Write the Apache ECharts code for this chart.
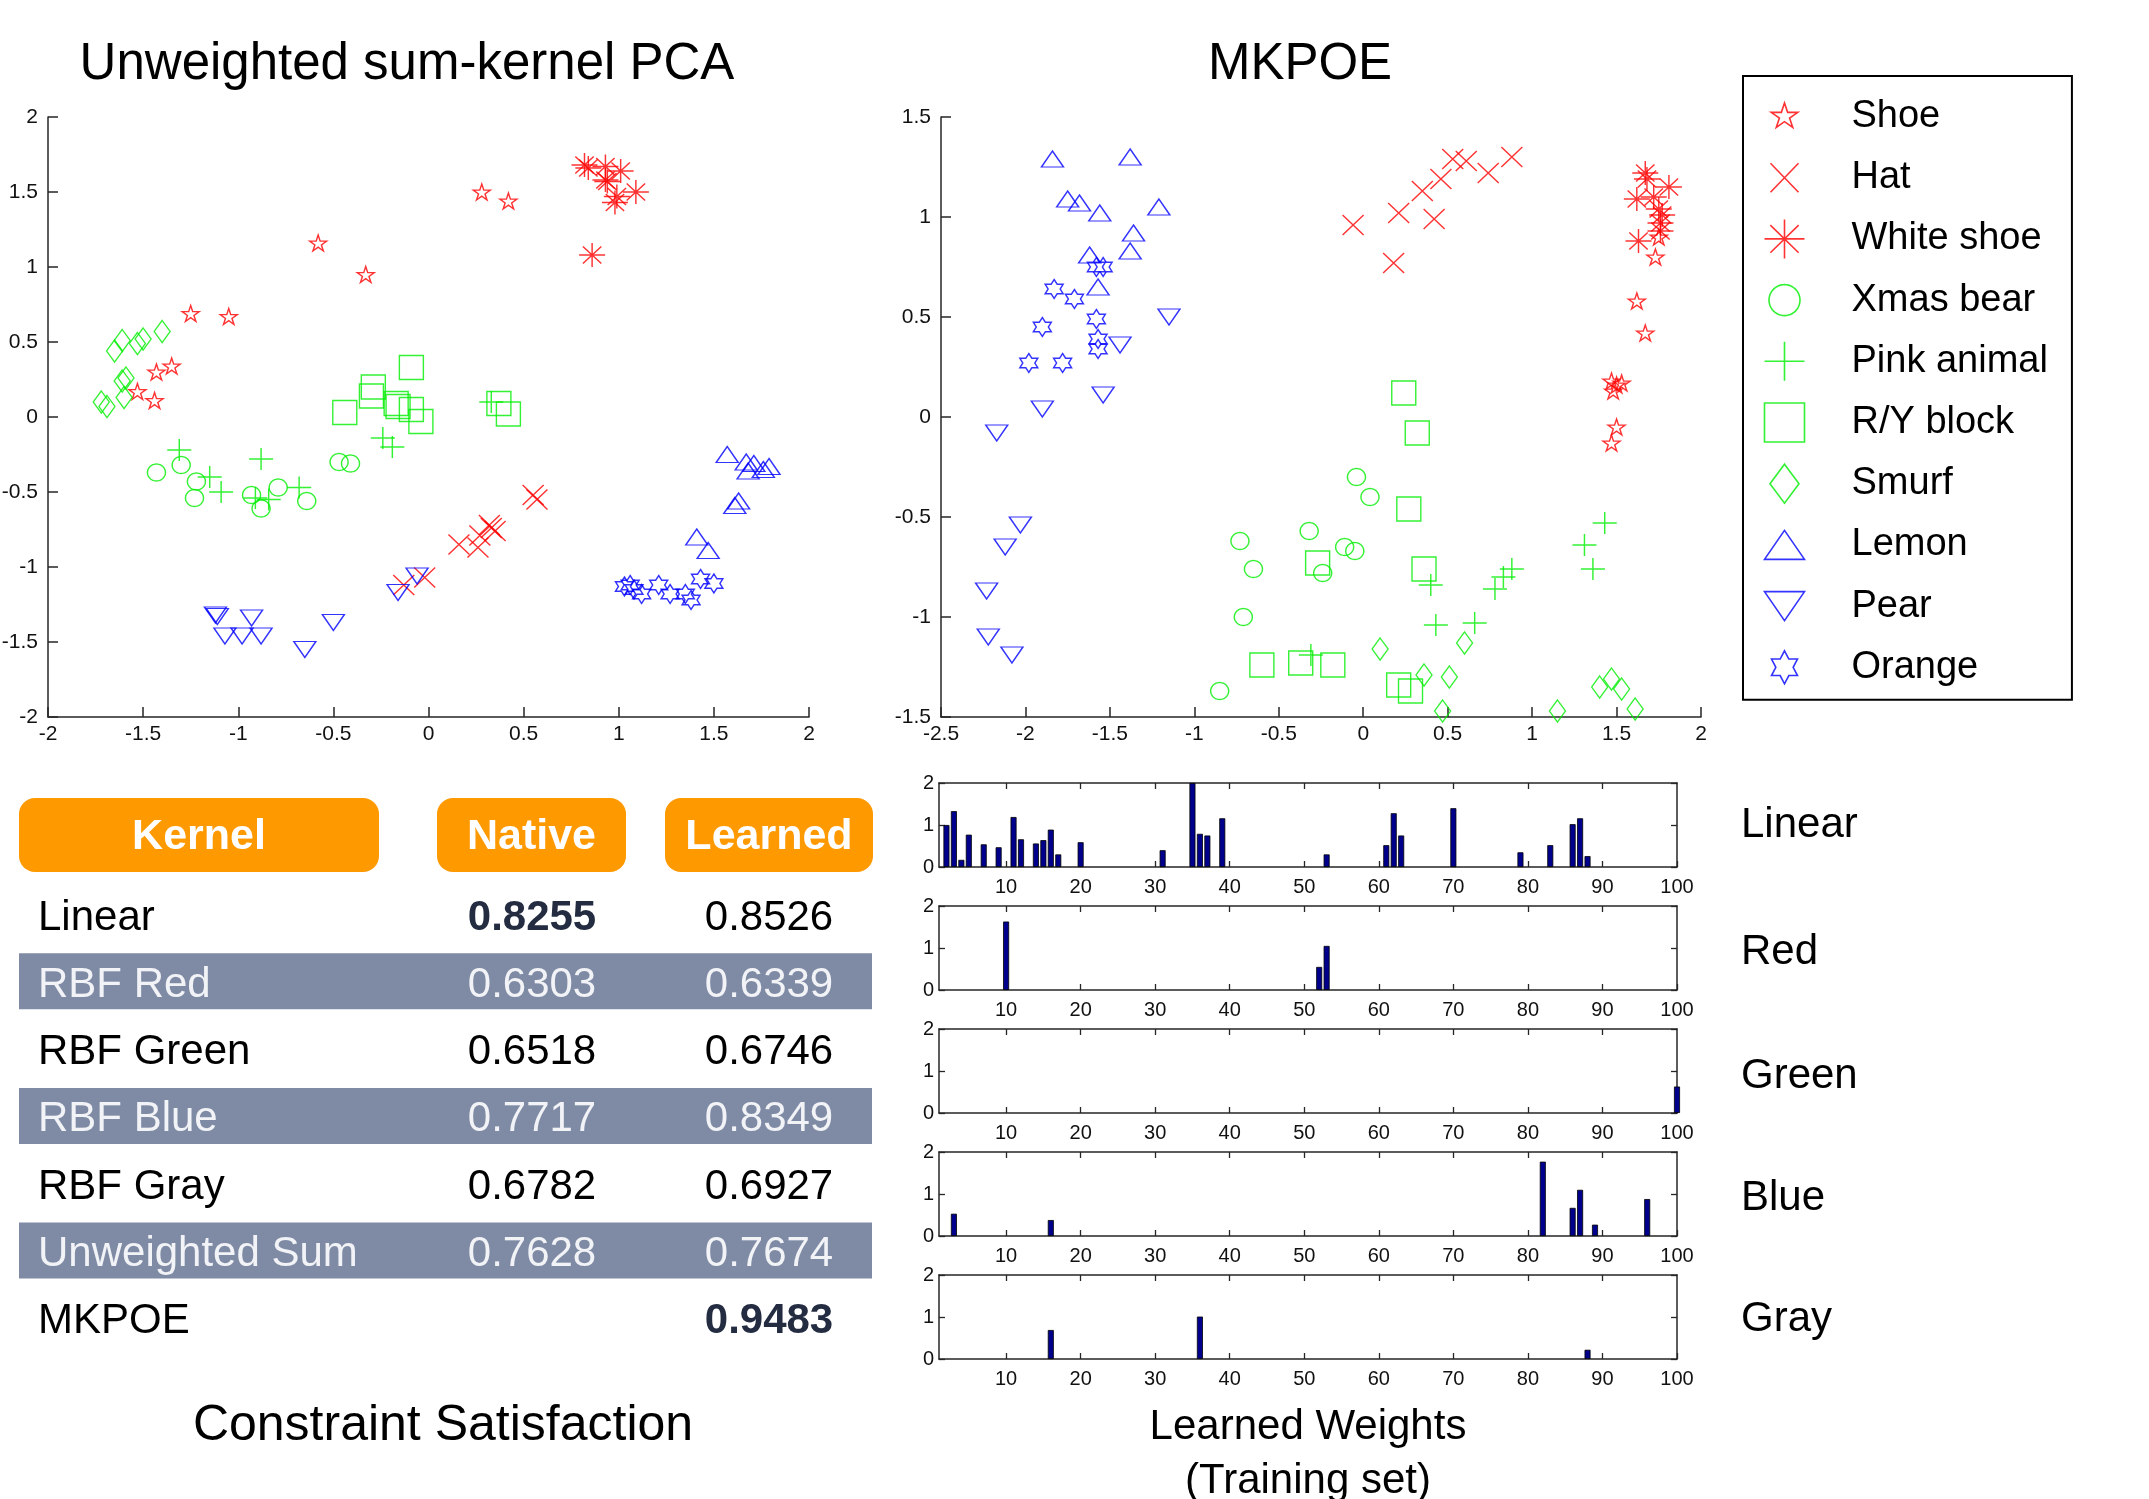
<!DOCTYPE html>
<html><head><meta charset="utf-8">
<script src="https://cdn.jsdelivr.net/npm/echarts@6/dist/echarts.min.js"></script>
<style>html,body{margin:0;padding:0;background:#fff}#c{width:2149px;height:1499px}</style>
</head><body><div id="c"></div>
<script>
// ---------------- DATA ----------------
const classNames = ['Shoe','Hat','White shoe','Xmas bear','Pink animal','R/Y block','Smurf','Lemon','Pear','Orange'];
const classColors = ['#FF0000','#FF0000','#FF0000','#00EE00','#00EE00','#00EE00','#00EE00','#0000FF','#0000FF','#0000FF'];

// Unweighted sum-kernel PCA (left)
const pcaShoe = [[0.28,1.50],[0.42,1.44],[-0.58,1.16],[-0.33,0.95],[-1.25,0.69],[-1.05,0.67],[-1.43,0.30],[-1.35,0.34],[-1.53,0.17],[-1.44,0.11]];
const pcaHat = [[0.55,-0.52],[0.57,-0.55],[0.33,-0.74],[0.35,-0.76],[0.32,-0.72],[0.27,-0.79],[0.16,-0.85],[0.26,-0.87],[-0.13,-1.12],[-0.02,-1.07]];
const pcaWhiteShoe = [[0.82,1.68],[0.84,1.66],[0.93,1.67],[1.01,1.64],[0.93,1.58],[0.94,1.57],[0.99,1.47],[0.98,1.43],[1.09,1.50],[0.86,1.08]];
const pcaXmasBear = [[-1.43,-0.37],[-1.30,-0.32],[-1.22,-0.43],[-1.23,-0.54],[-0.93,-0.52],[-0.88,-0.61],[-0.79,-0.47],[-0.64,-0.56],[-0.47,-0.30],[-0.41,-0.31]];
const pcaPinkAnimal = [[-1.31,-0.22],[-1.15,-0.40],[-1.09,-0.50],[-0.88,-0.28],[-0.91,-0.54],[-0.84,-0.55],[-0.68,-0.47],[-0.24,-0.14],[-0.19,-0.20],[0.33,0.10]];
const pcaRYBlock = [[-0.44,0.03],[-0.29,0.20],[-0.30,0.14],[-0.17,0.09],[-0.16,0.07],[-0.09,0.05],[-0.04,-0.03],[-0.09,0.33],[0.37,0.09],[0.42,0.02]];
const pcaSmurf = [[-1.65,0.44],[-1.61,0.51],[-1.53,0.49],[-1.50,0.52],[-1.40,0.57],[-1.61,0.24],[-1.59,0.26],[-1.60,0.13],[-1.72,0.10],[-1.69,0.07]];
const pcaLemon = [[1.57,-0.25],[1.67,-0.30],[1.71,-0.31],[1.68,-0.36],[1.76,-0.35],[1.79,-0.33],[1.63,-0.56],[1.61,-0.59],[1.41,-0.80],[1.47,-0.89]];
const pcaPear = [[-1.12,-1.32],[-1.11,-1.33],[-0.93,-1.34],[-1.07,-1.46],[-0.98,-1.46],[-0.88,-1.46],[-0.65,-1.55],[-0.50,-1.37],[-0.16,-1.17],[-0.06,-1.06]];
const pcaOrange = [[1.03,-1.13],[1.06,-1.12],[1.08,-1.15],[1.12,-1.18],[1.21,-1.12],[1.27,-1.18],[1.35,-1.18],[1.38,-1.22],[1.43,-1.08],[1.50,-1.11]];

// MKPOE (right)
const mkShoe = [[1.73,0.80],[1.62,0.58],[1.67,0.42],[1.47,0.18],[1.53,0.17],[1.48,0.13],[1.50,0.16],[1.50,-0.05],[1.47,-0.13],[1.75,0.90]];
const mkHat = [[-0.06,0.96],[0.21,1.02],[0.35,1.13],[0.46,1.19],[0.53,1.29],[0.61,1.28],[0.74,1.22],[0.88,1.30],[0.42,0.99],[0.18,0.77]];
const mkWhiteShoe = [[1.67,1.22],[1.68,1.19],[1.81,1.15],[1.62,1.09],[1.72,1.10],[1.75,1.04],[1.77,1.01],[1.76,0.97],[1.76,0.93],[1.63,0.88]];
const mkXmasBear = [[-0.04,-0.30],[0.04,-0.40],[-0.32,-0.57],[-0.73,-0.62],[-0.65,-0.76],[-0.11,-0.65],[-0.05,-0.67],[-0.24,-0.78],[-0.71,-1.00],[-0.85,-1.37]];
const mkPinkAnimal = [[1.43,-0.53],[1.31,-0.64],[1.36,-0.76],[0.88,-0.76],[0.83,-0.80],[0.78,-0.86],[0.40,-0.84],[0.43,-1.04],[0.66,-1.03],[-0.31,-1.19]];
const mkRYBlock = [[0.24,0.12],[0.32,-0.08],[0.27,-0.46],[-0.27,-0.73],[0.36,-0.76],[-0.60,-1.24],[-0.37,-1.23],[-0.18,-1.24],[0.21,-1.34],[0.28,-1.37]];
const mkSmurf = [[0.10,-1.16],[0.60,-1.13],[0.36,-1.29],[0.51,-1.30],[0.47,-1.47],[1.15,-1.47],[1.47,-1.31],[1.40,-1.35],[1.53,-1.36],[1.61,-1.46]];
const mkLemon = [[-1.84,1.29],[-1.38,1.30],[-1.75,1.09],[-1.68,1.07],[-1.56,1.02],[-1.21,1.05],[-1.36,0.92],[-1.38,0.83],[-1.62,0.81],[-1.57,0.65]];
const mkPear = [[-1.15,0.50],[-1.44,0.36],[-1.54,0.11],[-1.90,0.04],[-2.17,-0.08],[-2.03,-0.54],[-2.12,-0.65],[-2.23,-0.87],[-2.22,-1.10],[-2.08,-1.19]];
const mkOrange = [[-1.83,0.64],[-1.71,0.59],[-1.90,0.45],[-1.98,0.27],[-1.78,0.27],[-1.58,0.49],[-1.57,0.39],[-1.57,0.34],[-1.58,0.75],[-1.54,0.75]];

// Learned weights per kernel (training-set index, weight)
const kernelPanelNames = ['Linear','Red','Green','Blue','Gray'];
const linearIdx = [2,3,4,5,7,9,11,12,14,15,16,17,20,31,35,36,37,39,53,61,62,63,70,79,83,86,87,88];
const linearW   = [1.0,1.33,0.17,0.77,0.54,0.47,1.19,0.66,0.56,0.64,0.89,0.30,0.59,0.40,2.0,0.79,0.75,1.16,0.30,0.52,1.28,0.75,1.40,0.35,0.52,1.02,1.16,0.26];
const redIdx = [10,52,53];
const redW   = [1.63,0.55,1.05];
const greenIdx = [100];
const greenW   = [0.63];
const blueIdx = [3,16,82,86,87,89,96];
const blueW   = [0.53,0.38,1.77,0.67,1.10,0.27,0.88];
const grayIdx = [16,36,88];
const grayW   = [0.69,1.01,0.22];
const barTicks = [10,20,30,40,50,60,70,80,90,100];

// Constraint satisfaction table
const tableKernels = ['Linear','RBF Red','RBF Green','RBF Blue','RBF Gray','Unweighted Sum','MKPOE'];
const tableNative  = ['0.8255','0.6303','0.6518','0.7717','0.6782','0.7628',''];
const tableLearned = ['0.8526','0.6339','0.6746','0.8349','0.6927','0.7674','0.9483'];
const tableHeaders = ['Kernel','Native','Learned'];

// ---------------- STYLE / BUILD ----------------
const FONT = '"Liberation Sans", Arial, Helvetica, sans-serif';
const AX = '#262626';

function starPts(n, rin){ const p=[]; for(let k=0;k<2*n;k++){const a=(-90+k*180/n)*Math.PI/180; const r=k%2?rin:1; p.push([0.5+0.5*r*Math.cos(a),0.5+0.5*r*Math.sin(a)]);} return p; }
function circlePts(){ const p=[]; for(let k=0;k<48;k++){const a=k/48*2*Math.PI; p.push([0.5+0.5*Math.cos(a),0.5+0.5*Math.sin(a)]);} return p; }
const shapes = [
  [{pts:starPts(5,0.382),closed:true}],
  [{pts:[[0,0],[1,1]]},{pts:[[1,0],[0,1]]}],
  [{pts:[[0.5,0],[0.5,1]]},{pts:[[0,0.5],[1,0.5]]},{pts:[[0.146,0.146],[0.854,0.854]]},{pts:[[0.854,0.146],[0.146,0.854]]}],
  [{pts:circlePts(),closed:true}],
  [{pts:[[0.5,0],[0.5,1]]},{pts:[[0,0.5],[1,0.5]]}],
  [{pts:[[0,0],[1,0],[1,1],[0,1]],closed:true}],
  [{pts:[[0.5,0],[1,0.5],[0.5,1],[0,0.5]],closed:true}],
  [{pts:[[0.5,0],[1,1],[0,1]],closed:true}],
  [{pts:[[0,0],[1,0],[0.5,1]],closed:true}],
  [{pts:starPts(6,0.577),closed:true}]
];
function toPath(shape, ox, oy, w, h){ let s=''; shape.forEach(sp=>{ sp.pts.forEach((p,i)=>{ s+=(i?'L':'M')+(ox+p[0]*w).toFixed(2)+' '+(oy+p[1]*h).toFixed(2); }); if(sp.closed) s+='Z'; }); return s; }
const plotSymbols = shapes.map(s=>'path://'+toPath(s,0,0,100,100));
const plotSizes = [[17,16],[21,20],[26,24],[18,17],[24,22],[24,24],[16,22],[22,16],[22,16],[18,19]];
const legendSizes = [[28,27],[28,29],[40,39],[31,31],[40,39],[40,39],[29,39],[40,29],[40,29],[30,33]];
const legendIcons = shapes.map((s,i)=>'path://M0 0M40 40'+toPath(s,20-legendSizes[i][0]/2,20-legendSizes[i][1]/2,legendSizes[i][0],legendSizes[i][1]));

const pcaData = [pcaShoe,pcaHat,pcaWhiteShoe,pcaXmasBear,pcaPinkAnimal,pcaRYBlock,pcaSmurf,pcaLemon,pcaPear,pcaOrange];
const mkData = [mkShoe,mkHat,mkWhiteShoe,mkXmasBear,mkPinkAnimal,mkRYBlock,mkSmurf,mkLemon,mkPear,mkOrange];
const barIdx = [linearIdx,redIdx,greenIdx,blueIdx,grayIdx];
const barW = [linearW,redW,greenW,blueW,grayW];

const lbl = {fontSize:20, color:'#111', fontFamily:FONT};
function scatterAxis(g, min, max, isY){
  return {gridIndex:g, type:'value', min:min, max:max, interval:0.5,
    axisLine:{show:true, onZero:false, lineStyle:{color:AX, width:1.5}},
    axisTick:{show:true, inside:true, length:10, lineStyle:{color:AX, width:1.5}},
    axisLabel:Object.assign({margin:isY?10:7}, lbl, {fontSize:21}), splitLine:{show:false}};
}
const grids = [
  {left:48, top:117, width:761, height:600, outerBoundsMode:'none'},
  {left:941, top:117, width:760, height:600, outerBoundsMode:'none'}
];
const xAxes = [scatterAxis(0,-2,2,false), scatterAxis(1,-2.5,2,false)];
const yAxes = [scatterAxis(0,-2,2,true), scatterAxis(1,-1.5,1.5,true)];
const barTops = [783,906,1029,1152,1275];
const series = [];
classNames.forEach((n,i)=>{
  [[pcaData,0],[mkData,1]].forEach(([d,g])=>{
    series.push({type:'scatter', name:n, xAxisIndex:g, yAxisIndex:g, data:d[i],
      symbol:plotSymbols[i], symbolSize:plotSizes[i], symbolKeepAspect:false,
      itemStyle:{color:'none', borderColor:classColors[i], borderWidth:1.4},
      emphasis:{disabled:true}, silent:true, z:3});
  });
});
const frameLine = {show:true, onZero:false, lineStyle:{color:AX, width:1.5}};
barTops.forEach((top,k)=>{
  const g = 2+k;
  grids.push({left:939, top:top, width:738, height:84, outerBoundsMode:'none'});
  xAxes.push({gridIndex:g, type:'value', min:1, max:100, position:'bottom',
    axisLine:frameLine,
    axisTick:{show:true, inside:true, length:6, customValues:barTicks, lineStyle:{color:AX, width:1.3}},
    axisLabel:Object.assign({margin:10, customValues:barTicks}, lbl), splitLine:{show:false}});
  xAxes.push({gridIndex:g, type:'value', min:1, max:100, position:'top',
    axisLine:frameLine,
    axisTick:{show:true, inside:true, length:6, customValues:barTicks.slice(0,9), lineStyle:{color:AX, width:1.3}},
    axisLabel:{show:false}, splitLine:{show:false}});
  yAxes.push({gridIndex:g, type:'value', min:0, max:2, interval:1, position:'left',
    axisLine:frameLine,
    axisTick:{show:true, inside:true, length:6, lineStyle:{color:AX, width:1.3}},
    axisLabel:Object.assign({margin:5}, lbl), splitLine:{show:false}});
  yAxes.push({gridIndex:g, type:'value', min:0, max:2, interval:1, position:'right',
    axisLine:frameLine,
    axisTick:{show:true, inside:true, length:6, lineStyle:{color:AX, width:1.3}},
    axisLabel:{show:false}, splitLine:{show:false}});
  series.push({type:'bar', name:'w'+k, xAxisIndex:2+2*k, yAxisIndex:2+2*k,
    data:barIdx[k].map((x,j)=>[x,barW[k][j]]), barWidth:6, clip:false,
    itemStyle:{color:'#00008C', borderColor:'#000', borderWidth:0.8},
    emphasis:{disabled:true}, silent:true, z:2});
});

// graphics: titles, panel labels, table
const graphic = [];
function txt(x,y,t,size,opts){
  opts = opts||{};
  graphic.push({type:'text', x:x, y:y+3, silent:true, z:10, style:{text:t,
    font:(opts.bold?'bold ':'')+size+'px '+FONT, fill:opts.color||'#000',
    textAlign:opts.align||'center', textVerticalAlign:'middle'}});
}
txt(407,62,'Unweighted sum-kernel PCA',51);
txt(1300,62,'MKPOE',51);
const panelLabelY = [822,949,1073,1195,1316];
kernelPanelNames.forEach((n,k)=>txt(1741,panelLabelY[k],n,42,{align:'left'}));
txt(1308,1424,'Learned Weights',42);
txt(1308,1478,'(Training set)',42);
txt(443,1423,'Constraint Satisfaction',50);

const headerBoxes = [[19,360],[437,189],[665,208]];
tableHeaders.forEach((h,i)=>{
  graphic.push({type:'rect', silent:true, z:5, shape:{x:headerBoxes[i][0], y:798, width:headerBoxes[i][1], height:74, r:16}, style:{fill:'#FF9900'}});
  txt(headerBoxes[i][0]+headerBoxes[i][1]/2, 834, h, 43, {bold:true, color:'#FFFFFF'});
});
const nativeVals = tableNative.map(v=>v===''?-1:parseFloat(v));
const learnedVals = tableLearned.map(v=>parseFloat(v));
const bestN = nativeVals.indexOf(Math.max(...nativeVals));
const bestL = learnedVals.indexOf(Math.max(...learnedVals));
tableKernels.forEach((k,i)=>{
  const y = 914 + i*67.3;
  const band = i%2===1;
  if(band) graphic.push({type:'rect', silent:true, z:5, shape:{x:19, y:y-28, width:853, height:56}, style:{fill:'#7F8BA5'}});
  const c = band ? '#F2F3F7' : '#000';
  txt(38, y+1, k, 42, {align:'left', color:c});
  if(tableNative[i]!=='') txt(532, y+1, tableNative[i], 42, {bold:i===bestN, color:i===bestN?'#232C40':c});
  txt(769, y+1, tableLearned[i], 42, {bold:i===bestL, color:i===bestL?'#232C40':c});
});

const chart = echarts.init(document.getElementById('c'), null, {renderer:'canvas', width:2149, height:1499});
chart.setOption({
  animation:false,
  backgroundColor:'#fff',
  textStyle:{fontFamily:FONT},
  grid:grids, xAxis:xAxes, yAxis:yAxes, series:series,
  legend:{orient:'vertical', left:1743, top:76, itemWidth:40, itemHeight:40, itemGap:16.2,
    padding:[18,24,10,19], borderColor:'#000', borderWidth:2, selectedMode:false,
    textStyle:{fontSize:38, fontFamily:FONT, color:'#000', lineHeight:40, padding:[0,0,0,42]},
    itemStyle:{color:'none', borderWidth:1.6},
    data:classNames.map((n,i)=>({name:n, icon:legendIcons[i]}))},
  graphic:graphic
});
</script></body></html>
